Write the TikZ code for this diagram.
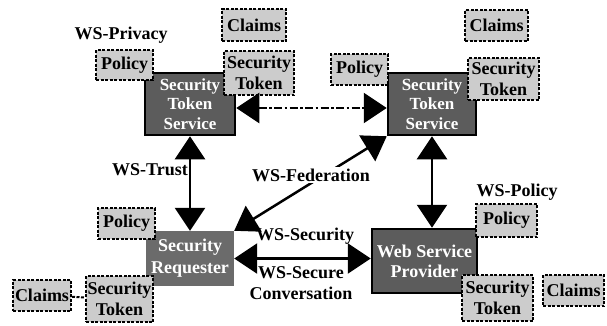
\documentclass[tikz,border=0pt]{standalone}
\usepackage{fontspec}
\setmainfont{Liberation Serif}
\newfontfamily\figfont{Liberation Serif}[BoldFont={Liberation Serif Bold}]
\usetikzlibrary{arrows.meta}

\begin{document}
\begin{tikzpicture}[x=1pt,y=-1pt,
				service/.style={draw=black,line width=2.5pt,fill=black!64,text=white,align=center,font=\figfont\bfseries\fontsize{17}{19.5}\selectfont},
				requester/.style={fill=black!58,text=white,align=center,font=\figfont\bfseries\fontsize{18}{22}\selectfont},
				item/.style={draw=black,line width=2pt,dash pattern=on 3pt off 1.5pt,fill=black!20,align=center,font=\figfont\bfseries\fontsize{18}{21}\selectfont},
				lab/.style={align=center,font=\figfont\bfseries\fontsize{18}{21}\selectfont},
				tip/.tip={Triangle[length=23pt,width=30pt]},
				link/.style={line width=2.5pt,tip-tip},
				inner sep=0pt]
				\useasboundingbox (0,0) rectangle (607,325);
				\node [service] 	(stsL) 	at (190,104) 	[minimum width=90pt,minimum height=62pt]	{Security\\Token\\Service};
				\node [service] 	(stsR) 	at (432,104) 	[minimum width=88pt,minimum height=62pt]	{Security\\Token\\Service};
				\node [requester]	(req)		at (190,258.5)	[minimum width=88pt,minimum height=55pt]	{Security\\Requester};
				\node [service,font=\figfont\bfseries\fontsize{18}{20}\selectfont] 	(wsp) 	at (424.5,261)	[minimum width=105pt,minimum height=64pt]	{Web Service\\Provider};
				\node [item] (clmL) at (254,25) 		[minimum width=64pt,minimum height=32pt]	{Claims};
				\node [item] (polL) at (124.5,65) 	[minimum width=57pt,minimum height=30pt]	{Policy};
				\node [item] (tokL) at (259,73) 		[minimum width=70pt,minimum height=44pt]	{Security\\Token};
				\node [item] (clmR) at (496.5,25.5)	[minimum width=63pt,minimum height=31pt]	{Claims};
				\node [item] (polR) at (359.5,69.5)	[minimum width=57pt,minimum height=31pt]	{Policy};
				\node [item] (tokR) at (503.5,79) 	[minimum width=71pt,minimum height=42pt]	{Security\\Token};
				\node [item] (polB) at (126.5,223.5)	[minimum width=57pt,minimum height=31pt]	{Policy};
				\node [item] (tokB) at (119.5,299) 	[minimum width=67pt,minimum height=46pt]	{Security\\Token};
				\node [item] (clmB) at (42,295.5) 	[minimum width=58pt,minimum height=31pt]	{Claims}
					edge [draw=black,line width=2pt,dash pattern=on 3pt off 1.5pt] (tokB);
				\node [item] (polW) at (506.5,220.5)	[minimum width=61pt,minimum height=33pt]	{Policy};
				\node [item] (tokW) at (497.5,298) 	[minimum width=71pt,minimum height=46pt]	{Security\\Token};
				\node [item] (clmW) at (573.5,290.5)	[minimum width=61pt,minimum height=31pt]	{Claims};
				\draw [link] (stsL.south) -- (req.north);
				\draw [link] (stsR.south) -- (stsR.south |- wsp.north);
				\draw [link,dash pattern=on 8pt off 2.5pt on 2.5pt off 2.5pt] ([yshift=-4pt]stsL.east) -- ([yshift=-4pt]stsR.west);
				\draw [link] (req.north east) -- (stsR.south west);
				\draw [link] (req.east) -- (req.east -| wsp.west);
				\node [lab] (privacy) 	at (121,35)		{WS-Privacy};
				\node [lab] (policy) 	at (517,192)	{WS-Policy};
				\node [lab,anchor=east] (trust) at (188,170) {WS-Trust};
				\node [lab,fill=white,inner sep=2pt] (federation) at (311,175) {WS-Federation};
				\node [lab] (security) 	at (305,236)	{WS-Security};
				\node [lab] (secure) 	at (301,283)	{WS-Secure\\Conversation};
			\end{tikzpicture}
\end{document}
